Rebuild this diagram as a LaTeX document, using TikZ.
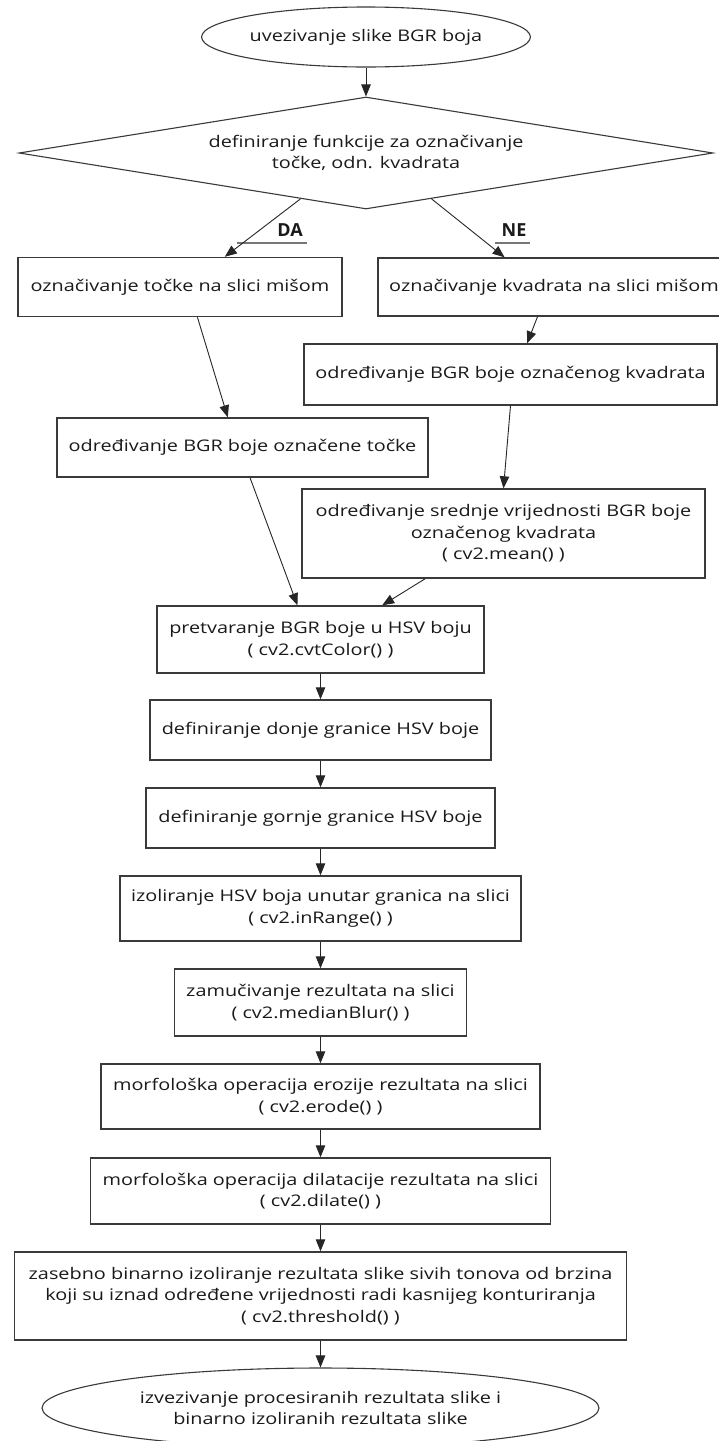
\documentclass[tikz,border=0pt]{standalone}
\usepackage{fontspec}
\setmainfont{Open Sans}[FakeStretch=1.24]
\newfontfamily\lblfont{Open Sans}
\usetikzlibrary{shapes.geometric,arrows.meta}
\definecolor{edgec}{HTML}{3A3A3A}
\definecolor{txtc}{HTML}{1A1A1A}
\definecolor{ulc}{HTML}{777777}
\begin{document}
\begin{tikzpicture}[x=1pt,y=-1pt,
  every node/.style={font=\fontsize{16}{21.5}\selectfont, text=txtc, inner sep=0pt, align=center},
  procbox/.style={draw=edgec, line width=1.4pt, rectangle, fill=white},
  termell/.style={draw=edgec, line width=1.1pt, ellipse, fill=white},
  decbox/.style={draw=edgec, line width=1.1pt, diamond, fill=white},
  flow/.style={draw=black!85, line width=0.9pt, -{Triangle[length=12pt,width=9.5pt]}},
  lbl/.style={font=\lblfont\bfseries\fontsize{18}{20}\selectfont},
  uline/.style={draw=ulc, line width=1.3pt}
]
\useasboundingbox (0,0) rectangle (718,1441);
\fill[white] (0,0) rectangle (718,1441);

\node[termell, minimum width=321pt, minimum height=60pt] (start) at (366,37) {uvezivanje slike BGR boja};
\node[decbox, minimum width=694pt, minimum height=112pt, aspect=6.2] (dec) at (366,153) {definiranje funkcije za označivanje\\točke, odn. kvadrata};

\node[procbox, minimum width=324pt, minimum height=59pt] (a1) at (180,287) {označivanje točke na slici mišom};
\node[procbox, minimum width=352pt, minimum height=58pt] (b1) at (554,287) {označivanje kvadrata na slici mišom};
\node[procbox, minimum width=413pt, minimum height=61pt] (b2) at (510.5,374.5) {određivanje BGR boje označenog kvadrata};
\node[procbox, minimum width=371pt, minimum height=59pt] (a2) at (242.5,447.5) {određivanje BGR boje označene točke};
\node[procbox, minimum width=403pt, minimum height=89pt] (b3) at (503.5,533.5) {određivanje srednje vrijednosti BGR boje\\označenog kvadrata\\( cv2.mean() )};

\node[procbox, minimum width=327pt, minimum height=67pt] (c1) at (320.5,639.5) {pretvaranje BGR boje u HSV boju\\( cv2.cvtColor() )};
\node[procbox, minimum width=341pt, minimum height=60pt] (c2) at (320.5,730) {definiranje donje granice HSV boje};
\node[procbox, minimum width=349pt, minimum height=60pt] (c3) at (320.5,818) {definiranje gornje granice HSV boje};
\node[procbox, minimum width=401pt, minimum height=65pt] (c4) at (320.5,908.5) {izoliranje HSV boja unutar granica na slici\\( cv2.inRange() )};
\node[procbox, minimum width=292pt, minimum height=67pt] (c5) at (320.5,1002.5) {zamučivanje rezultata na slici\\( cv2.medianBlur() )};
\node[procbox, minimum width=439pt, minimum height=65pt] (c6) at (320.5,1096.5) {morfološka operacija erozije rezultata na slici\\( cv2.erode() )};
\node[procbox, minimum width=460pt, minimum height=66pt] (c7) at (320.5,1191) {morfološka operacija dilatacije rezultata na slici\\( cv2.dilate() )};
\node[procbox, minimum width=612pt, minimum height=88pt] (c8) at (320.5,1296) {zasebno binarno izoliranje rezultata slike sivih tonova od brzina\\koji su iznad određene vrijednosti radi kasnijeg konturiranja\\( cv2.threshold() )};
\node[termell, minimum width=557pt, minimum height=80pt] (end) at (320.5,1408) {izvezivanje procesiranih rezultata slike i\\binarno izoliranih rezultata slike};

% labels
\node[lbl] (da) at (290,230) {DA};
\node[lbl] (ne) at (514,230) {NE};
\coordinate (da1) at (237,243);
\coordinate (da2) at (307,243);
\coordinate (ne1) at (495,243);
\coordinate (ne2) at (530,243);
\draw[uline] (da1) -- (da2);
\draw[uline] (ne1) -- (ne2);

% connectors
\draw[flow] (start) -- (dec);
\draw[flow] (dec.215) -- (a1.34);
\draw[flow] (dec.325) -- (b1.149);
\draw[flow] (a1.-60) -- (a2.116);
\draw[flow] (b1.241) -- (b2.62);
\draw[flow] (b2.south) -- (b3.north);
\draw[flow] (a2.-76) -- (c1.124);
\draw[flow] (b3.210) -- (c1.29.4);
\draw[flow] (c1) -- (c2);
\draw[flow] (c2) -- (c3);
\draw[flow] (c3) -- (c4);
\draw[flow] (c4) -- (c5);
\draw[flow] (c5) -- (c6);
\draw[flow] (c6) -- (c7);
\draw[flow] (c7) -- (c8);
\draw[flow] (c8) -- (end);
\end{tikzpicture}
\end{document}
